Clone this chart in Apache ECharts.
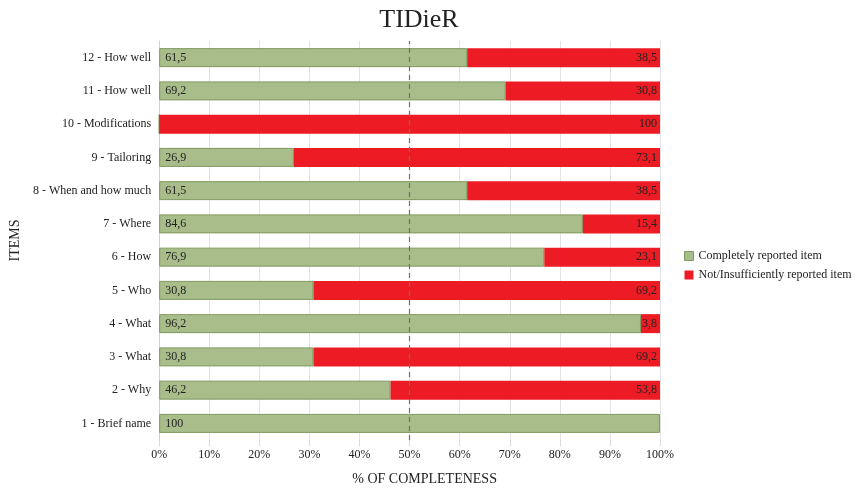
<!DOCTYPE html>
<html><head><meta charset="utf-8">
<script src="https://cdn.jsdelivr.net/npm/echarts@6/dist/echarts.min.js"></script>
<style>html,body{margin:0;padding:0;background:#fff}#c{width:855px;height:491px}</style>
</head><body><div id="c"></div>
<script>
const categories = ['1 - Brief name','2 - Why','3 - What','4 - What','5 - Who','6 - How','7 - Where','8 - When and how much','9 - Tailoring','10 - Modifications','11 - How well','12 - How well'];
const completeValues = [100,46.2,30.8,96.2,30.8,76.9,84.6,61.5,26.9,0,69.2,61.5];
const notReportedValues = [0,53.8,69.2,3.8,69.2,23.1,15.4,38.5,73.1,100,30.8,38.5];
const xTicks = [0,10,20,30,40,50,60,70,80,90,100];
const FONT = '"Liberation Serif", "DejaVu Serif", serif';
const fmt = p => p.value === 0 ? '' : String(p.value).replace('.', ',');
const chart = echarts.init(document.getElementById('c'));
chart.setOption({
  animation: false,
  textStyle: { fontFamily: FONT },
  title: { text: 'TIDieR', left: 414, textAlign: 'center', top: 2, textStyle: { fontFamily: FONT, fontSize: 26, fontWeight: 'normal', color: '#222' } },
  legend: {
    orient: 'vertical', left: 679, top: 245, itemWidth: 9, itemHeight: 9, itemGap: 7, icon: 'rect',
    textStyle: { fontFamily: FONT, fontSize: 12, color: '#222' },
    data: [
      { name: 'Completely reported item', itemStyle: { color: '#a9bd8b', borderColor: '#7f9a5e', borderWidth: 1 } },
      { name: 'Not/Insufficiently reported item', itemStyle: { color: '#ed1c24', borderColor: '#ed1c24', borderWidth: 0 } }
    ]
  },
  grid: { left: 152, right: 195, top: 41, bottom: 45, containLabel: false },
  xAxis: {
    type: 'value', min: 0, max: 100, interval: 10,
    name: '% OF COMPLETENESS', nameLocation: 'middle', nameGap: 32,
    nameTextStyle: { fontFamily: FONT, fontSize: 14, color: '#222', padding: [0, 0, 0, 30] },
    axisLine: { show: false },
    axisTick: { show: true, length: 6, lineStyle: { color: '#d9d9d9' } },
    axisLabel: { fontFamily: FONT, fontSize: 12, color: '#222', margin: 9, formatter: v => v + '%' },
    splitLine: { show: true, lineStyle: { color: '#e3e3e3', width: 1 } }
  },
  yAxis: {
    type: 'category', data: categories,
    name: 'ITEMS', nameLocation: 'middle', nameGap: 128, nameRotate: 90,
    nameTextStyle: { fontFamily: FONT, fontSize: 14, color: '#222' },
    axisLine: { show: true, lineStyle: { color: '#d0d0d0' } },
    axisTick: { show: false },
    axisLabel: { fontFamily: FONT, fontSize: 12, color: '#222', margin: 8 }
  },
  series: [
    {
      name: 'Completely reported item', type: 'bar', stack: 'a', data: completeValues,
      barWidth: 19,
      itemStyle: { color: '#a9bd8b', borderColor: '#7f9a5e', borderWidth: 1 },
      label: { show: true, position: 'insideLeft', distance: 6, formatter: fmt, fontFamily: FONT, fontSize: 12, color: '#222' },
      markLine: {
        silent: true, symbol: 'none', label: { show: false },
        lineStyle: { color: '#707070', type: [5, 4], width: 1.2 },
        data: [{ xAxis: 50 }]
      }
    },
    {
      name: 'Not/Insufficiently reported item', type: 'bar', stack: 'a', data: notReportedValues,
      barWidth: 19,
      itemStyle: { color: '#ed1c24' },
      label: { show: true, position: 'insideRight', distance: 3, formatter: fmt, fontFamily: FONT, fontSize: 12, color: '#222' }
    }
  ]
});
</script></body></html>
